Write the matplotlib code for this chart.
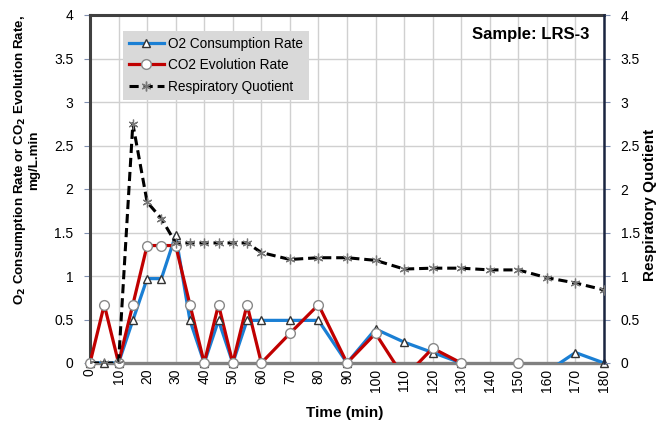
import numpy as np
import matplotlib
matplotlib.use('Agg')
import matplotlib.pyplot as plt

plt.rcParams['font.family'] = ['Liberation Sans', 'DejaVu Sans']

# 數據 (min)
time_min = [0, 5, 10, 15, 20, 25, 30, 35, 40, 45, 50, 55, 60, 70, 80, 90,
            100, 110, 120, 130, 140, 150, 160, 170, 180]
o2_rate = [0, 0, 0, 0.49, 0.97, 0.97, 1.47, 0.49, 0, 0.49, 0, 0.49, 0.49, 0.49, 0.49, 0,
           0.39, 0.24, 0.12, 0, -0.12, -0.12, -0.10, 0.12, 0]
co2_rate = [0, 0.67, 0, 0.67, 1.35, 1.35, 1.35, 0.67, 0, 0.67, 0, 0.67, 0, 0.34, 0.67, 0,
            0.34, -0.17, 0.17, 0, -0.17, 0, -0.17, -0.17, -0.17]
rq = [0, 0, 0, 2.75, 1.85, 1.66, 1.38, 1.38, 1.38, 1.38, 1.38, 1.38, 1.27, 1.19, 1.21, 1.21,
      1.18, 1.08, 1.09, 1.09, 1.07, 1.07, 0.98, 0.92, 0.84]
x_ticks = list(range(0, 181, 10))
y_ticks = [0, 0.5, 1, 1.5, 2, 2.5, 3, 3.5, 4]

t = np.array(time_min)
o2 = np.array(o2_rate)
co2 = np.array(co2_rate)

fig = plt.figure(figsize=(6.6, 4.24), dpi=100)
ax = fig.add_axes([90 / 660, 1 - 363 / 424, 514 / 660, 348 / 424])
ax2 = ax.twinx()

blue = '#1a7fd4'
red = '#c00000'

# 線 (裁切到 0 以下)
ax.plot(t, o2, color=blue, lw=2.3, zorder=3)
ax.plot(t, co2, color=red, lw=2.3, zorder=4)
# 標記 (不裁切，僅 >= 0)
m = o2 >= 0
ax.plot(t[m], o2[m], ls='none', marker='^', ms=6, mfc='white', mec='#333333',
        mew=1.0, clip_on=False, zorder=5)
m = co2 >= 0
ax.plot(t[m], co2[m], ls='none', marker='o', ms=7, mfc='white', mec='#888888',
        mew=1.0, clip_on=False, zorder=6)

ax2.plot(time_min, rq, color='black', lw=2.2, ls=(0, (3, 1.6)), marker=(6, 2, 0),
         ms=7, mec='#777777', mew=0.9, zorder=5)

# 圖例用的代理
l1, = ax.plot([], [], color=blue, lw=2.3, marker='^', ms=6, mfc='white', mec='#333333')
l2, = ax.plot([], [], color=red, lw=2.3, marker='o', ms=7, mfc='white', mec='#888888')
l3, = ax.plot([], [], color='black', lw=2.2, ls=(0, (3, 1.6)), marker=(6, 2, 0),
              ms=7, mec='#777777')

for a in (ax, ax2):
    a.set_xlim(0, 180)
    a.set_ylim(0, 4)
    a.set_yticks(y_ticks)
    a.set_yticklabels([f'{v:g}' for v in y_ticks], fontsize=10)

ax.set_xticks(x_ticks)
ax.set_xticklabels([str(v) for v in x_ticks], rotation=90, fontsize=10)
ax.tick_params(axis='x', length=0, pad=4)
ax.tick_params(axis='y', length=4, color='#8090b0', pad=8)
ax2.tick_params(axis='y', length=4, color='#8090b0', pad=8)

ax.grid(True, color='#d0d0d0', lw=1.0)
ax.set_axisbelow(True)

ax.spines['left'].set_color('#404040')
ax.spines['left'].set_linewidth(2.2)
ax.spines['top'].set_color('#404040')
ax.spines['top'].set_linewidth(2.2)
ax.spines['bottom'].set_color('#808080')
ax.spines['bottom'].set_linewidth(2.4)
ax.spines['right'].set_visible(False)
ax2.spines['right'].set_color('#1a2540')
ax2.spines['right'].set_linewidth(1.8)
for s in ('left', 'top', 'bottom'):
    ax2.spines[s].set_visible(False)

leg = ax.legend([l1, l2, l3], ['O2 Consumption Rate', 'CO2 Evolution Rate', 'Respiratory Quotient'],
                loc='upper left', bbox_to_anchor=(0.05, 0.975), fontsize=9.8,
                facecolor='#d9d9d9', edgecolor='none', framealpha=1, fancybox=False,
                handlelength=2.6, handletextpad=0.3, labelspacing=0.55, borderpad=0.45)
leg.set_zorder(10)

ax.text(0.972, 0.945, 'Sample: LRS-3', transform=ax.transAxes, ha='right', va='center',
        fontsize=12, fontweight='bold')

fig.text(26 / 660, 1 - 160 / 424,
         'O$_\\mathbf{2}$ Consumption Rate or CO$_\\mathbf{2}$ Evolution Rate,\nmg/L.min',
         rotation=90, ha='center', va='center', fontsize=9.6, fontweight='bold',
         multialignment='center', linespacing=1.1)
fig.text(650 / 660, 1 - 205 / 424, 'Respiratory Quotient', rotation=90, ha='center',
         va='center', fontsize=11, fontweight='bold')
fig.text(345 / 660, 1 - 413 / 424, 'Time (min)', ha='center', va='center',
         fontsize=11, fontweight='bold')

fig.savefig('out.png', dpi=100)
